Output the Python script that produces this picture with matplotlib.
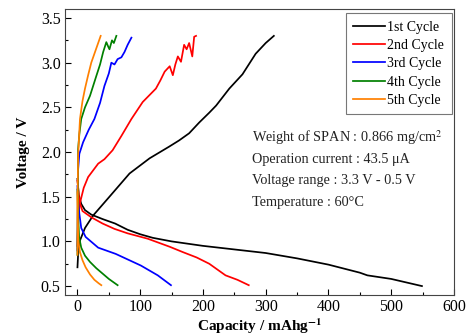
import matplotlib
matplotlib.use('Agg')
import matplotlib.pyplot as plt
from matplotlib.ticker import MultipleLocator

plt.rcParams['font.family'] = ['Liberation Serif', 'DejaVu Serif']
plt.rcParams['mathtext.fontset'] = 'stix'

# ── (capacity mAh/g, voltage V) ──
c1_dis_x = [0, 2, 6, 12, 22, 40, 60, 80, 100, 120, 150, 200, 250, 300, 350, 400, 450, 462, 500, 549]
c1_dis_y = [1.70, 1.52, 1.42, 1.35, 1.30, 1.25, 1.20, 1.13, 1.08, 1.04, 1.00, 0.95, 0.91, 0.87, 0.81, 0.74, 0.65, 0.62, 0.58, 0.50]
c1_chg_x = [0, 1, 4, 12, 25, 51, 83, 115, 146, 162, 178, 194, 210, 221, 242, 263, 284, 300, 313]
c1_chg_y = [0.71, 0.85, 1.01, 1.15, 1.29, 1.50, 1.76, 1.93, 2.06, 2.13, 2.21, 2.33, 2.44, 2.52, 2.71, 2.87, 3.10, 3.22, 3.30]

c2_dis_x = [0, 1, 3, 8, 22, 40, 59, 80, 112, 147, 168, 190, 210, 236, 255, 273]
c2_dis_y = [1.68, 1.61, 1.45, 1.34, 1.27, 1.20, 1.14, 1.09, 1.03, 0.94, 0.88, 0.82, 0.75, 0.62, 0.57, 0.51]
c2_chg_x = [0, 1, 4, 10, 17, 33, 43, 56, 70, 86, 104, 118, 125, 132, 139, 147, 152, 156,
            160, 165, 170, 174, 178, 183, 186, 189]
c2_chg_y = [0.95, 1.25, 1.43, 1.60, 1.72, 1.87, 1.92, 2.02, 2.18, 2.37, 2.56, 2.66, 2.71, 2.80,
            2.90, 2.96, 2.86, 2.98, 3.07, 3.01, 3.20, 3.15, 3.22, 3.07, 3.29, 3.30]

c3_dis_x = [0, 1, 3, 6, 13, 33, 61, 101, 128, 149]
c3_dis_y = [1.62, 1.45, 1.31, 1.15, 1.05, 0.93, 0.86, 0.73, 0.62, 0.51]
c3_chg_x = [0, 0.5, 1, 3, 9, 18, 27, 36, 43, 50, 54, 59, 64, 70, 75, 80, 86]
c3_chg_y = [0.90, 1.30, 1.80, 1.98, 2.11, 2.25, 2.37, 2.55, 2.74, 2.88, 3.00, 2.98, 3.04, 3.06, 3.12, 3.20, 3.28]

c4_dis_x = [0, 1, 2.6, 6, 12, 20, 30, 40, 50, 64]
c4_dis_y = [1.58, 1.30, 1.05, 0.93, 0.84, 0.77, 0.70, 0.64, 0.58, 0.51]
c4_chg_x = [0, 0.5, 1, 3, 6, 12, 20, 30, 36, 41, 46, 49, 51, 55, 58, 62]
c4_chg_y = [0.85, 1.40, 2.03, 2.20, 2.37, 2.50, 2.63, 2.85, 2.98, 3.12, 3.23, 3.18, 3.15, 3.25, 3.22, 3.30]

c5_dis_x = [0, 0.5, 1.5, 4, 8, 13, 20, 27, 34, 38]
c5_dis_y = [1.55, 1.20, 1.00, 0.88, 0.79, 0.71, 0.63, 0.57, 0.53, 0.51]
c5_chg_x = [0, 0.3, 1, 4, 8, 12, 17, 22, 30, 37]
c5_chg_y = [0.85, 1.50, 1.96, 2.37, 2.57, 2.71, 2.86, 3.00, 3.16, 3.30]

cycles = [('1st Cycle', 'black', c1_dis_x, c1_dis_y, c1_chg_x, c1_chg_y),
          ('2nd Cycle', '#ff0000', c2_dis_x, c2_dis_y, c2_chg_x, c2_chg_y),
          ('3rd Cycle', '#0000ff', c3_dis_x, c3_dis_y, c3_chg_x, c3_chg_y),
          ('4th Cycle', '#008000', c4_dis_x, c4_dis_y, c4_chg_x, c4_chg_y),
          ('5th Cycle', '#ff8000', c5_dis_x, c5_dis_y, c5_chg_x, c5_chg_y)]

fig = plt.figure(figsize=(4.67, 3.36), dpi=100)
ax = fig.add_axes([0.139, 0.122, 0.833, 0.851])

for label, col, dx, dy, cx, cy in cycles:
    ax.plot(dx, dy, color=col, lw=1.25, label=label)
    ax.plot(cx, cy, color=col, lw=1.25)

ax.set_xlim(-20, 600)
ax.set_ylim(0.4, 3.6)
ax.xaxis.set_major_locator(MultipleLocator(100))
ax.xaxis.set_minor_locator(MultipleLocator(50))
ax.yaxis.set_major_locator(MultipleLocator(0.5))
ax.yaxis.set_minor_locator(MultipleLocator(0.25))
ax.yaxis.set_major_formatter(plt.FormatStrFormatter('%.1f'))
ax.tick_params(which='major', direction='in', length=4, labelsize=11.5, width=0.8, pad=3)
ax.tick_params(which='minor', direction='in', length=2, width=0.8)
for s in ax.spines.values():
    s.set_color('#444444')

ax.set_xlabel('Capacity / mAhg$^{\\mathbf{-1}}$', fontsize=11, fontweight='bold', labelpad=1)
ax.set_ylabel('Voltage / V', fontsize=11, fontweight='bold', labelpad=8)

leg = ax.legend(loc='upper right', fontsize=10, handlelength=2.3, handletextpad=0.15,
                labelspacing=0.38, borderpad=0.55, borderaxespad=0, fancybox=False,
                edgecolor='#555555', bbox_to_anchor=(0.995, 0.986))
leg.get_frame().set_linewidth(0.8)

info = ['Weight of SPAN : 0.866 mg/cm$^2$',
        'Operation current : 43.5 \u03bcA',
        'Voltage range : 3.3 V - 0.5 V',
        'Temperature : 60\u00b0C']
for i, t in enumerate(info):
    ax.text(0.481, 0.55 - i * 0.075, t, transform=ax.transAxes, fontsize=10.3,
            color='#222222', va='center')

fig.savefig('out.png', dpi=100)
